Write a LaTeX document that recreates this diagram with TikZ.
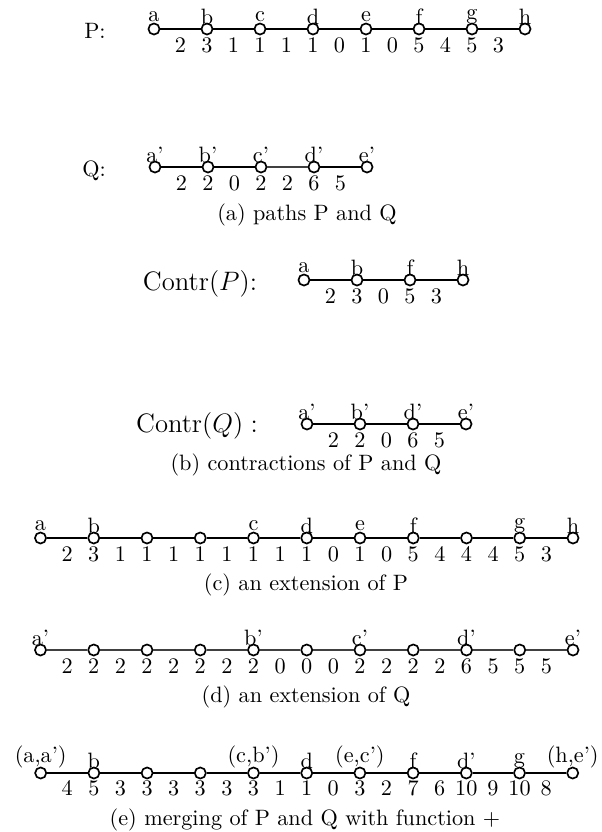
\documentclass[tikz,border=0pt]{standalone}
\usetikzlibrary{calc}
\begin{document}
\begin{tikzpicture}[x=0.45pt,y=-0.45pt,
  vtx/.style={circle,draw,fill=white,line width=0.75pt,minimum size=5pt,inner sep=0pt},
  lbl/.style={anchor=center,inner sep=0pt},
  val/.style={anchor=base,inner sep=0pt},
  thinedge/.style={line width=0.5pt},
  thickedge/.style={line width=0.95pt},
  greyedge/.style={line width=0.5pt,draw=black!75},
  captxt/.style={anchor=base,inner sep=0pt},
  rowname/.style={anchor=base,inner sep=0pt}]
\useasboundingbox (0,0) rectangle (601,832);

% ---------- Row P ----------
\node[rowname] (Pname) at (95,38) {P:};
\foreach \i/\n in {0/a,1/b,2/c,3/d,4/e,5/f,6/g,7/h}{
  \node[vtx] (p\i) at (154+53*\i,29) {};
  \node[lbl] (pl\i) at (154+53*\i,16.8) {\n};
}
\foreach \i/\j/\s in {0/1/thickedge,1/2/thinedge,2/3/thinedge,3/4/thinedge,4/5/thickedge,5/6/thinedge,6/7/thickedge}
  \draw[\s] (p\i) -- (p\j);
\foreach \i/\v in {0/2,1/1,2/1,3/0,4/0,5/4,6/3}
  \node[val] (pe\i) at (154+53*\i+26.5,52) {\v};
\foreach \i/\v in {1/3,2/1,3/1,4/1,5/5,6/5}
  \node[val] (pn\i) at (154+53*\i,52) {\v};

% ---------- Row Q ----------
\node[rowname] (Qname) at (94,176) {Q:};
\foreach \i/\n in {0/a',1/b',2/c',3/d',4/e'}{
  \node[vtx] (q\i) at (155+53*\i,167) {};
  \node[lbl] (ql\i) at (155+53*\i,154.8) {\n};
}
\foreach \i/\j/\s in {0/1/thickedge,1/2/thickedge,2/3/greyedge,3/4/thickedge}
  \draw[\s] (q\i) -- (q\j);
\foreach \i/\v in {0/2,1/0,2/2,3/5}
  \node[val] (qe\i) at (155+53*\i+26.5,190) {\v};
\foreach \i/\v in {1/2,2/2,3/6}
  \node[val] (qn\i) at (155+53*\i,190) {\v};

\node[captxt] (capa) at (307,220) {(a) paths P and Q};

% ---------- Contr(P) ----------
\node[rowname,font=\large] (CPname) at (200,290) {Contr$(P)$:};
\foreach \i/\n in {0/a,1/b,2/f,3/h}{
  \node[vtx] (cp\i) at (304+53*\i,280) {};
  \node[lbl] (cpl\i) at (304+53*\i,267.8) {\n};
}
\foreach \i/\j in {0/1,1/2,2/3}
  \draw[thickedge] (cp\i) -- (cp\j);
\foreach \i/\v in {0/2,1/0,2/3}
  \node[val] (cpe\i) at (304+53*\i+26.5,303) {\v};
\foreach \i/\v in {1/3,2/5}
  \node[val] (cpn\i) at (304+53*\i,303) {\v};

% ---------- Contr(Q) ----------
\node[rowname,font=\large] (CQname) at (197,432) {$\mathrm{Contr}(Q):$};
\foreach \i/\n in {0/a',1/b',2/d',3/e'}{
  \node[vtx] (cq\i) at (307+53*\i,424) {};
  \node[lbl] (cql\i) at (307+53*\i,411.8) {\n};
}
\foreach \i/\j in {0/1,1/2,2/3}
  \draw[thickedge] (cq\i) -- (cq\j);
\foreach \i/\v in {0/2,1/0,2/5}
  \node[val] (cqe\i) at (307+53*\i+26.5,447) {\v};
\foreach \i/\v in {1/2,2/6}
  \node[val] (cqn\i) at (307+53*\i,447) {\v};

\node[captxt] (capb) at (306,470) {(b) contractions of P and Q};

% ---------- (c) extension of P ----------
\foreach \i in {0,...,10}
  \node[vtx] (c\i) at (40.5+53.25*\i,538) {};
\foreach \i/\n in {0/a,1/b,4/c,5/d,6/e,7/f,9/g,10/h}
  \node[lbl] (cl\i) at (40.5+53.25*\i,525.8) {\n};
\foreach \i [evaluate=\i as \j using int(\i+1)] in {0,...,9}
  \draw[thinedge] (c\i) -- (c\j);
\foreach \i/\v in {0/2,1/1,2/1,3/1,4/1,5/0,6/0,7/4,8/4,9/3}
  \node[val] (ce\i) at (40.5+53.25*\i+26.6,561) {\v};
\foreach \i/\v in {1/3,2/1,3/1,4/1,5/1,6/1,7/5,8/4,9/5}
  \node[val] (cn\i) at (40.5+53.25*\i,561) {\v};

\node[captxt] (capc) at (306,590) {(c) an extension of P};

% ---------- (d) extension of Q ----------
\foreach \i in {0,...,10}
  \node[vtx] (d\i) at (40.5+53.25*\i,650) {};
\foreach \i/\n in {0/a',4/b',6/c',8/d',10/e'}
  \node[lbl] (dl\i) at (40.5+53.25*\i,637.8) {\n};
\foreach \i [evaluate=\i as \j using int(\i+1)] in {0,...,9}
  \draw[greyedge] (d\i) -- (d\j);
\foreach \i/\v in {0/2,1/2,2/2,3/2,4/0,5/0,6/2,7/2,8/5,9/5}
  \node[val] (de\i) at (40.5+53.25*\i+26.6,673) {\v};
\foreach \i/\v in {1/2,2/2,3/2,4/2,5/0,6/2,7/2,8/6,9/5}
  \node[val] (dn\i) at (40.5+53.25*\i,673) {\v};

\node[captxt] (capd) at (306,702) {(d) an extension of Q};

% ---------- (e) merging ----------
\foreach \i in {0,...,10}
  \node[vtx] (e\i) at (40.7+53.2*\i,773) {};
\foreach \i/\n in {1/b,5/d,7/f,8/d',9/g}
  \node[lbl] (el\i) at (40.7+53.2*\i,761) {\n};
\foreach \i/\n in {0/{(a,a')},4/{(c,b')},6/{(e,c')},10/{(h,e')}}
  \node[lbl] (el\i) at (40.7+53.2*\i,756.5) {\n};
\foreach \i [evaluate=\i as \j using int(\i+1)] in {0,...,9}
  \draw[thinedge] (e\i) -- (e\j);
\foreach \i/\v in {0/4,1/3,2/3,3/3,4/1,5/0,6/2,7/6,8/9,9/8}
  \node[val] (ee\i) at (40.7+53.2*\i+26.6,795.5) {\v};
\foreach \i/\v in {1/5,2/3,3/3,4/3,5/1,6/3,7/7,8/10,9/10}
  \node[val] (en\i) at (40.7+53.2*\i,795.5) {\v};

\node[captxt] (cape) at (305,825) {(e) merging of P and Q with function +};
\end{tikzpicture}
\end{document}
